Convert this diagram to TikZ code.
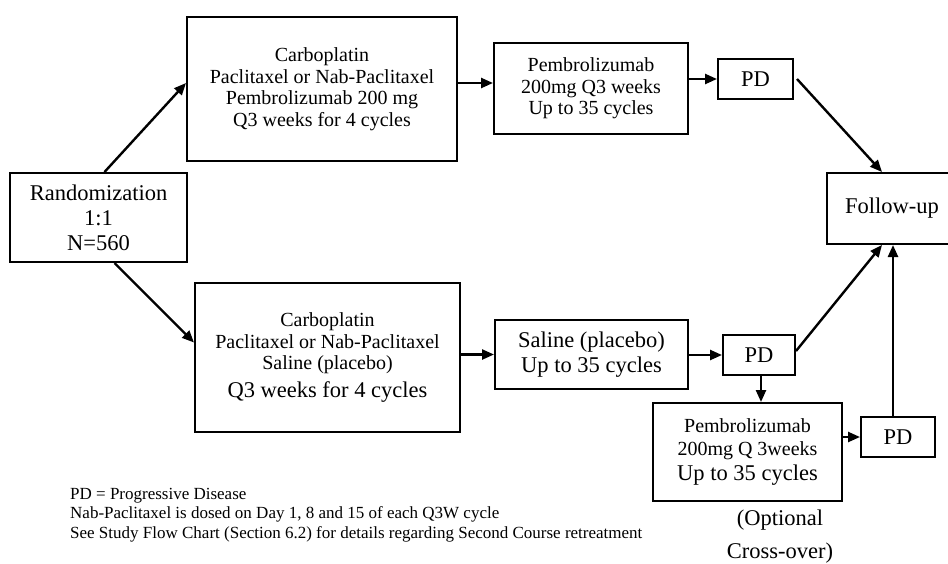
\documentclass[tikz,border=0pt]{standalone}
\usepackage{fontspec}
\setmainfont{Liberation Serif}
\usetikzlibrary{arrows.meta}

\tikzset{
  stepbox/.style={draw, line width=2pt, align=center, inner sep=0pt},
  flow/.style={-{Triangle[length=12pt,width=10pt]}, line width=2.4pt},
}
\newcommand{\bigtxt}{\fontsize{22.5}{25}\selectfont}
\newcommand{\midtxt}{\fontsize{20}{21.5}\selectfont}

\begin{document}
\begin{tikzpicture}[x=1pt, y=-1pt]
\useasboundingbox (0,0) rectangle (948,563);
% boxes
\node [stepbox, minimum width=177pt, minimum height=89pt, font=\bigtxt] (rand) at (98.5,217.5) {Randomization\\1:1\\N=560};
\node [stepbox, minimum width=270pt, minimum height=144pt, font=\midtxt] (chemoP) at (322,89) {Carboplatin\\Paclitaxel or Nab-Paclitaxel\\Pembrolizumab 200 mg\\Q3 weeks for 4 cycles};
\node [stepbox, minimum width=194pt, minimum height=91pt, font=\midtxt] (pembro) at (591,88.5) {Pembrolizumab\\200mg Q3 weeks\\Up to 35 cycles};
\node [stepbox, minimum width=75pt, minimum height=40pt, font=\bigtxt] (pd1) at (755.5,79) {PD};
\node [stepbox, minimum width=130pt, minimum height=71pt, font=\bigtxt, text width=119pt] (follow) at (892,208.5) {Follow-up\hspace*{11pt}};
\node [stepbox, minimum width=265pt, minimum height=149pt, font=\midtxt] (chemoS) at (327.5,357.5) {Carboplatin\\Paclitaxel or Nab-Paclitaxel\\Saline (placebo)\\[6pt]{\bigtxt Q3 weeks for 4 cycles}};
\node [stepbox, minimum width=193pt, minimum height=69pt, font=\bigtxt] (saline) at (591.5,354.5) {Saline (placebo)\\Up to 35 cycles};
\node [stepbox, minimum width=72pt, minimum height=40pt, font=\bigtxt] (pd2) at (759,355) {PD};
\node [stepbox, minimum width=189pt, minimum height=98pt, font=\midtxt] (cross) at (747.5,452) {Pembrolizumab\\[1pt]200mg Q 3weeks\\[4pt]{\bigtxt Up to 35 cycles}};
\node [stepbox, minimum width=74pt, minimum height=40pt, font=\bigtxt] (pd3) at (898,437) {PD};
\node [align=center, font=\fontsize{22.5}{33}\selectfont] (optional) at (780,537) {(Optional\\Cross-over)};
\node [align=left, anchor=north west, inner sep=0pt, font=\fontsize{17}{19.5}\selectfont] (notes) at (70,488)
  {PD = Progressive Disease\\Nab-Paclitaxel is dosed on Day 1, 8 and 15 of each Q3W cycle\\See Study Flow Chart (Section 6.2) for details regarding Second Course retreatment};
% arrows
\draw [flow] ([xshift=6pt]rand.north) -- ([yshift=6pt]chemoP.west);
\draw [flow] ([xshift=16pt]rand.south) -- ([yshift=15pt]chemoS.west);
\draw [flow] ([yshift=6pt]chemoP.east) -- ([yshift=6pt]chemoP.east -| pembro.west);
\draw [flow] (pembro.east |- pd1) -- (pd1.west);
\draw [flow] ([xshift=3pt]pd1.east) -- ([xshift=-10pt]follow.north);
\draw [flow] ([yshift=3pt]chemoS.east) -- ([yshift=3pt]chemoS.east -| saline.west);
\draw [flow] (saline.east |- pd2) -- (pd2.west);
\draw [flow] ([yshift=4pt]pd2.east) -- ([xshift=-10pt]follow.south);
\draw [flow] ([xshift=2pt]pd2.south) -- ([xshift=2pt]pd2.south |- cross.north);
\draw [flow] (cross.east |- pd3) -- (pd3.west);
\draw [flow] ([xshift=-5pt]pd3.north) -- ([xshift=-5pt]pd3.north |- follow.south);
\end{tikzpicture}
\end{document}
